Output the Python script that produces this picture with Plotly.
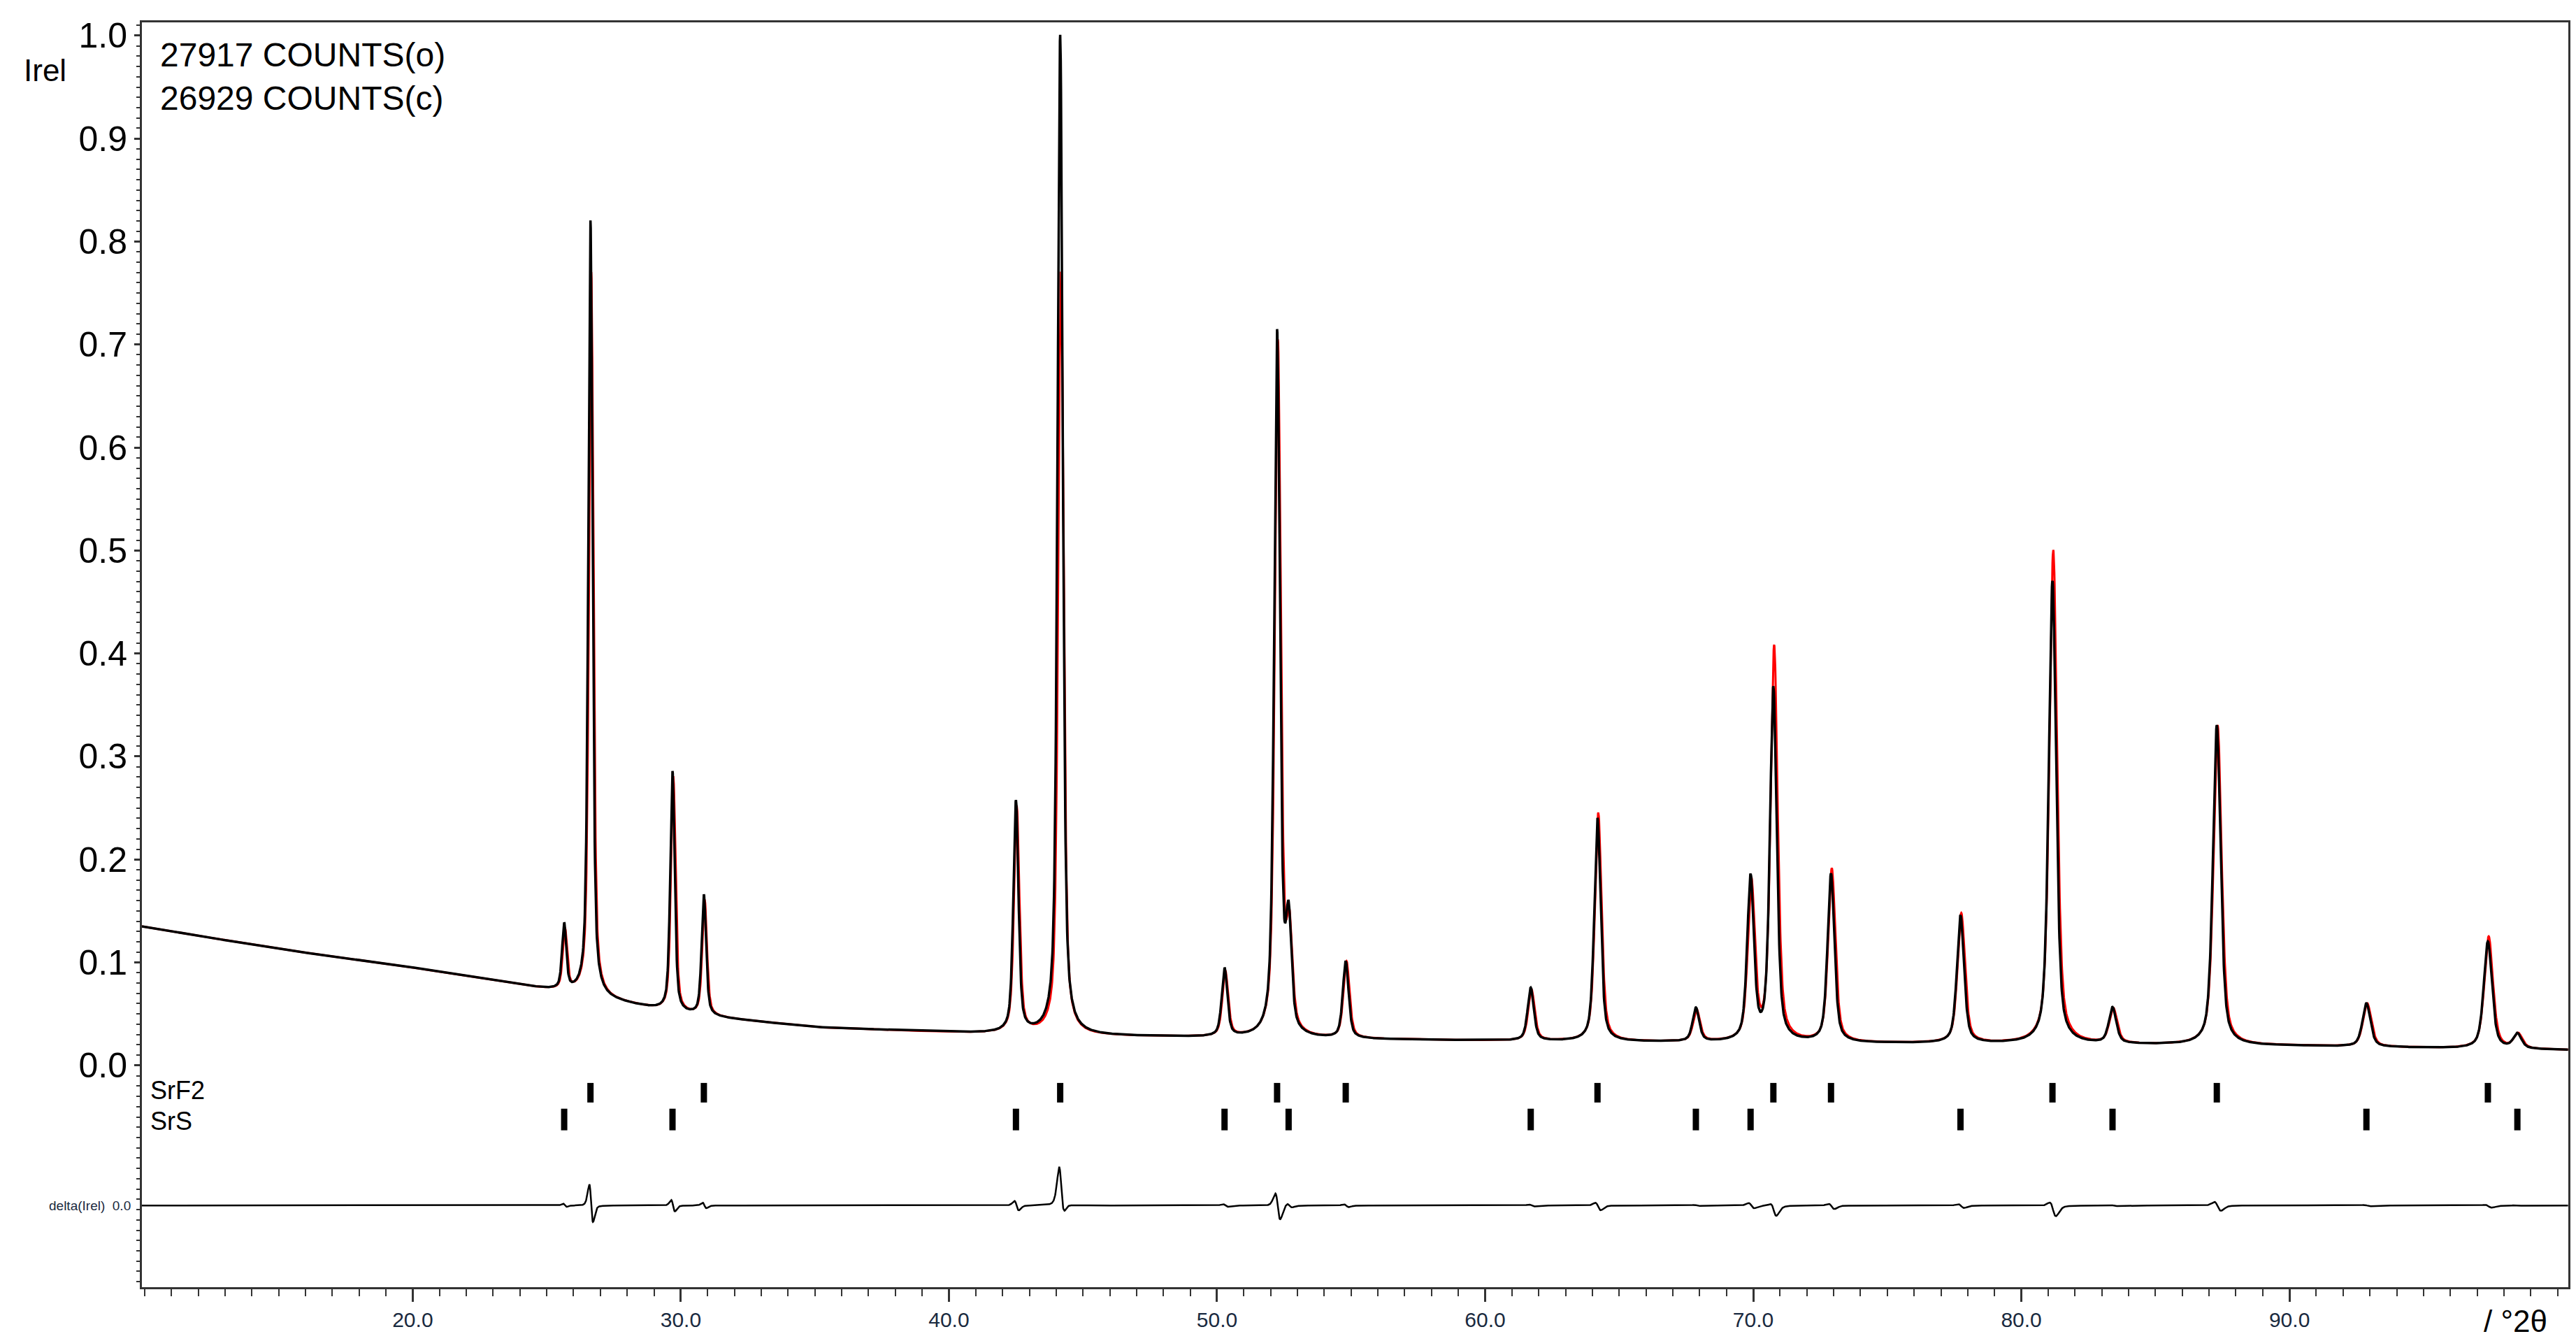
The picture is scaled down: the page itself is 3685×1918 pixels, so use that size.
import numpy as np
import plotly.graph_objects as go

# Peak positions (°2θ) and observed / calculated peak maxima (Irel)
peak_pos  = [25.65, 26.63, 29.69, 30.86, 42.50, 44.15, 50.28, 52.24, 52.67, 54.80, 61.70, 64.19,
             67.86, 69.90, 70.75, 72.90, 77.73, 81.16, 83.40, 87.29, 92.87, 97.40, 98.50]
peak_obs  = [0.135, 0.82, 0.285, 0.165, 0.255, 1.00, 0.093, 0.71, 0.13, 0.10, 0.075, 0.24,
             0.055, 0.18, 0.365, 0.185, 0.145, 0.47, 0.055, 0.33, 0.06, 0.12, 0.03]
peak_calc = [0.13, 0.77, 0.28, 0.16, 0.25, 0.77, 0.09, 0.70, 0.12, 0.10, 0.073, 0.245,
             0.053, 0.175, 0.405, 0.19, 0.147, 0.50, 0.054, 0.33, 0.06, 0.125, 0.03]
# Background
bg_x = [9.9, 15, 20, 24, 26, 30, 35, 40, 45, 50, 60, 70, 80, 90, 100.4]
bg_y = [0.135, 0.113, 0.095, 0.078, 0.070, 0.050, 0.037, 0.032, 0.029, 0.027, 0.024, 0.022, 0.021, 0.019, 0.015]
# Reflection markers
srf2_ticks = [26.63, 30.86, 44.15, 52.24, 54.80, 64.19, 70.75, 72.90, 81.16, 87.29, 97.40]
srs_ticks  = [25.65, 29.69, 42.50, 50.28, 52.67, 61.70, 67.86, 69.90, 77.73, 83.40, 92.87, 98.50]
y_ticks = [0.0, 0.1, 0.2, 0.3, 0.4, 0.5, 0.6, 0.7, 0.8, 0.9, 1.0]
x_ticks = [20, 30, 40, 50, 60, 70, 80, 90]

x = np.arange(9.9, 100.4, 0.01)
bg = np.interp(x, bg_x, bg_y)

def profile(heights, shift=0.0, wscale=1.0):
    y = bg.copy()
    for p, h in zip(peak_pos, heights):
        amp = h - np.interp(p, bg_x, bg_y)
        w = (0.17 + 0.0025 * (p - 20)) * wscale
        u = (x - p - shift) / (w / 2)
        y += amp * (0.55 / (1 + u**2) + 0.45 * np.exp(-np.log(2) * u**2))
    return y

obs = profile(peak_obs)
calc = profile(peak_calc, shift=0.03, wscale=1.05)
delta_off = -0.136
delta = delta_off + 0.12 * (obs - calc)

fig = go.Figure()
fig.add_trace(go.Scatter(x=x, y=calc, mode="lines", line=dict(color="red", width=3)))
fig.add_trace(go.Scatter(x=x, y=obs, mode="lines", line=dict(color="black", width=3.5)))
fig.add_trace(go.Scatter(x=x, y=delta, mode="lines", line=dict(color="black", width=2.5)))

def tick_lines(vals, y0, y1):
    xs, ys = [], []
    for v in vals:
        xs += [v, v, None]; ys += [y0, y1, None]
    return xs, ys

for vals, (y0, y1) in [(srf2_ticks, (-0.017, -0.036)), (srs_ticks, (-0.042, -0.063))]:
    xs, ys = tick_lines(vals, y0, y1)
    fig.add_trace(go.Scatter(x=xs, y=ys, mode="lines", line=dict(color="black", width=9)))

fig.update_layout(
    width=3685, height=1918, showlegend=False,
    paper_bgcolor="white", plot_bgcolor="white",
    margin=dict(l=195, r=19, t=24, b=85),
    font=dict(family="Liberation Sans, Arial", color="black"),
)
fig.update_xaxes(range=[9.9, 100.4], tickvals=x_ticks, ticktext=[f"{v:.1f}" for v in x_ticks],
                 ticks="outside", ticklen=18, tickwidth=3, tickcolor="#333",
                 minor=dict(dtick=1, ticks="outside", ticklen=10, tickwidth=2, tickcolor="#333"),
                 showline=True, linecolor="#333", linewidth=3, mirror=True, showgrid=False, zeroline=False,
                 tickfont=dict(size=30, color="#1a2a40"))
fig.update_yaxes(range=[-0.2153, 1.0128], tickvals=y_ticks, ticktext=[f"{v:.1f}" for v in y_ticks],
                 ticks="outside", ticklen=8, tickwidth=3, tickcolor="#333",
                 minor=dict(dtick=0.01, ticks="outside", ticklen=5, tickwidth=2, tickcolor="#333"),
                 showline=True, linecolor="#333", linewidth=3, mirror=True, showgrid=False, zeroline=False,
                 tickfont=dict(size=50, color="black"))

ann = [
    dict(x=0.007, y=0.99, xref="paper", yref="paper", xanchor="left", yanchor="top", align="left",
         text="27917 COUNTS(o)<br>26929 COUNTS(c)", font=dict(size=48)),
    dict(x=-0.04, y=0.962, xref="paper", yref="paper", xanchor="center", yanchor="middle",
         text="Irel", font=dict(size=44)),
    dict(x=0.003, y=-0.024, xref="paper", yref="y", xanchor="left", yanchor="middle",
         text="SrF2", font=dict(size=36)),
    dict(x=0.003, y=-0.054, xref="paper", yref="y", xanchor="left", yanchor="middle",
         text="SrS", font=dict(size=36)),
    dict(x=-0.004, y=delta_off, xref="paper", yref="y", xanchor="right", yanchor="middle",
         text="delta(Irel)&nbsp;&nbsp;0.0", font=dict(size=19, color="#1a2a40")),
    dict(x=0.992, y=-0.012, xref="paper", yref="paper", xanchor="right", yanchor="top",
         text="/ °2θ", font=dict(size=44)),
]
for a in ann:
    a["showarrow"] = False
fig.update_layout(annotations=ann)
fig.write_html("out.html")
